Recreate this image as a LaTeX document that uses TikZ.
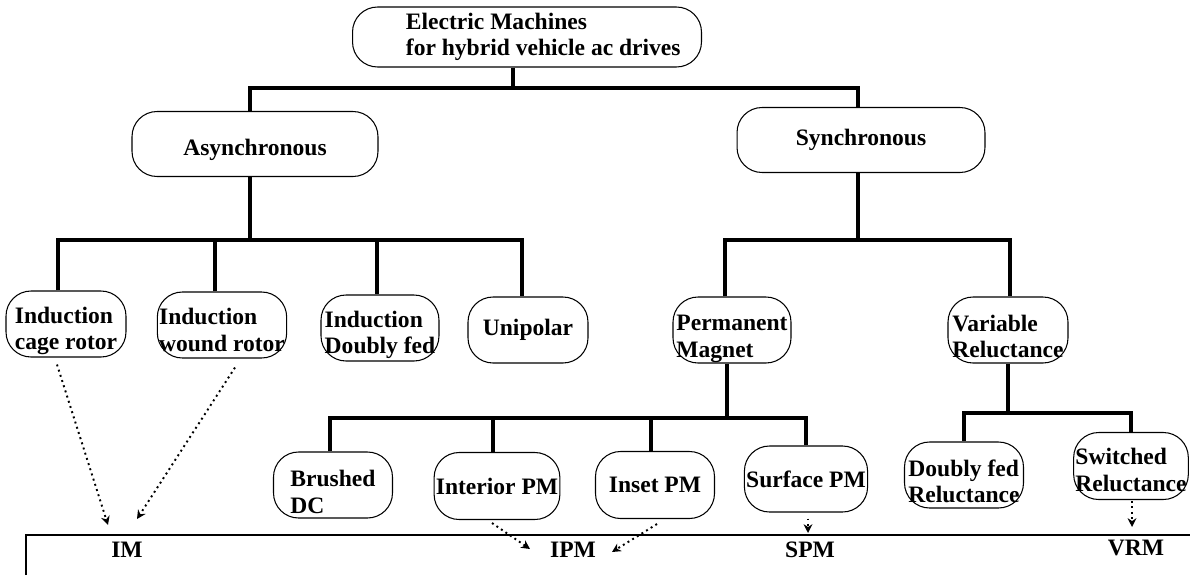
\documentclass[tikz,border=0pt]{standalone}
\usepackage{fontspec}
\setmainfont{Liberation Serif}
\usetikzlibrary{arrows.meta, positioning, calc}

% pushes the text of a box a little down
\newcommand{\lowered}[1][17pt]{\rule{0pt}{#1}}

\begin{document}
\begin{tikzpicture}[x=0.02cm, y=-0.02cm,
        machine/.style = {
            rectangle,
            draw,
            line width=0.6pt,
            rounded corners=0.5cm,
            font = \fontsize{13.4}{15}\selectfont\bfseries,
            align = left,
            inner xsep=1pt,
            inner ysep=0pt,
            minimum width=2.4cm,
            minimum height=1.32cm
        },
        family/.style = {
            font = \fontsize{13.4}{15}\selectfont\bfseries,
            inner sep=0pt
        },
        branch/.style = {line width=1.8pt},
        maps_to/.style = {dotted, line width=1.1pt, -{Stealth[length=5pt, width=5pt]}}  ]
        \useasboundingbox (0,0) rectangle (1190,575);

        % main classes
        \node (machines) [machine, minimum width=6.98cm, minimum height=1.2cm] at (527,37)
            {\hspace*{0.65cm}Electric Machines\\\hspace*{0.65cm}for hybrid vehicle ac drives};
        \node (async) [machine, minimum width=4.92cm, minimum height=1.3cm] at (255,144)
            {\lowered[15.5pt]Asynchronous};
        \node (sync) [machine, minimum width=4.96cm, minimum height=1.3cm] at (861,140) {Synchronous};

        % asynchronous machines
        \node (cage) [machine] at (66,324) {\lowered Induction\\cage rotor};
        \node (wound) [machine, minimum width=2.44cm] at (222,325) {\lowered[15pt]Induction\\wound rotor};
        \node (dfed) [machine, minimum width=2.36cm] at (380,328) {\lowered Induction\\Doubly fed};
        \node (unipolar) [machine] at (528,330) {Unipolar};

        % synchronous machines
        \node (pm) [machine, minimum width=2.36cm] at (732,330) {\lowered[19pt]Permanent\\Magnet};
        \node (vr) [machine] at (1008,330) {\lowered Variable\\Reluctance};
        \node (brushed) [machine, minimum width=2.38cm] at (333,485) {\lowered Brushed\\DC};
        \node (interior) [machine, minimum height=1.34cm] at (497,486) {Interior PM};
        \node (inset) [machine, minimum width=2.38cm, minimum height=1.34cm] at (655,485) {Inset PM};
        \node (surface) [machine, minimum width=2.38cm] at (806,479) {Surface PM};
        \node (dfrel) [machine, minimum width=2.38cm] at (964,475) {\lowered Doubly fed\\Reluctance};
        \node (switched) [machine, minimum width=2.26cm, minimum height=1.34cm] at (1131,466)
            {\lowered[14pt]Switched\\Reluctance};

        % drive families
        \node (im) [family] at (127,550) {IM};
        \node (ipm) [family] at (573,550) {IPM};
        \node (spm) [family] at (810,550) {SPM};
        \node (vrm) [family] at (1136,548) {VRM};

        \coordinate (bus_top) at (0,88);
        \coordinate (bus_async) at (0,240);
        \coordinate (bus_sync) at (0,240);
        \coordinate (bus_pm) at (0,418);
        \coordinate (bus_vr) at (0,413);
        \coordinate (root_stem) at ([xshift=-0.28cm]machines.south);
        \coordinate (async_stem) at ([xshift=-0.1cm]async.north);
        \coordinate (sync_stem) at ([xshift=-0.06cm]sync.north);

        \draw[branch] (root_stem) -- (root_stem |- bus_top);
        \draw[branch] (async_stem) |- (sync_stem |- bus_top) -- (sync_stem);

        \draw[branch] (async_stem |- async.south) -- (async_stem |- bus_async);
        \draw[branch] ([xshift=-0.16cm]cage.north) |- ([xshift=-0.12cm]unipolar.north |- bus_async)
            -- ([xshift=-0.12cm]unipolar.north);
        \draw[branch] ([xshift=-0.14cm]wound.north) -- ([xshift=-0.14cm]wound.north |- bus_async);
        \draw[branch] ([xshift=-0.06cm]dfed.north) -- ([xshift=-0.06cm]dfed.north |- bus_async);

        \draw[branch] (sync_stem |- sync.south) -- (sync_stem |- bus_sync);
        \draw[branch] ([xshift=-0.14cm]pm.north) |- ([xshift=0.04cm]vr.north |- bus_sync)
            -- ([xshift=0.04cm]vr.north);

        \draw[branch] ([xshift=-0.1cm]pm.south) -- ([xshift=-0.1cm]pm.south |- bus_pm);
        \draw[branch] ([xshift=-0.06cm]brushed.north) |- (surface.north |- bus_pm) -- (surface.north);
        \draw[branch] ([xshift=-0.08cm]interior.north) -- ([xshift=-0.08cm]interior.north |- bus_pm);
        \draw[branch] ([xshift=-0.08cm]inset.north) -- ([xshift=-0.08cm]inset.north |- bus_pm);

        \draw[branch] (vr.south) -- (vr.south |- bus_vr);
        \draw[branch] (dfrel.north) |- (switched.north |- bus_vr) -- (switched.north);

        \draw[maps_to] ($(cage.south)+(-9,7)$) -- ($(im)+(-19,-25)$);
        \draw[maps_to] ($(wound.south)+(13,9)$) -- ($(im)+(10,-31)$);
        \draw[maps_to] ($(interior.south)+(-5,3)$) -- ($(ipm)+(-43,-1)$);
        \draw[maps_to] ($(inset.south)+(2,5)$) -- ($(ipm)+(39,2)$);
        \draw[maps_to] ($(surface.south)+(2,6)$) -- ($(spm)+(-2,-17)$);
        \draw[maps_to] ($(switched.south)+(1,1)$) -- ($(vrm)+(-4,-21)$);

        \draw[line width=0.6pt] (26,575) |- (1190,535);
    \end{tikzpicture}
\end{document}
